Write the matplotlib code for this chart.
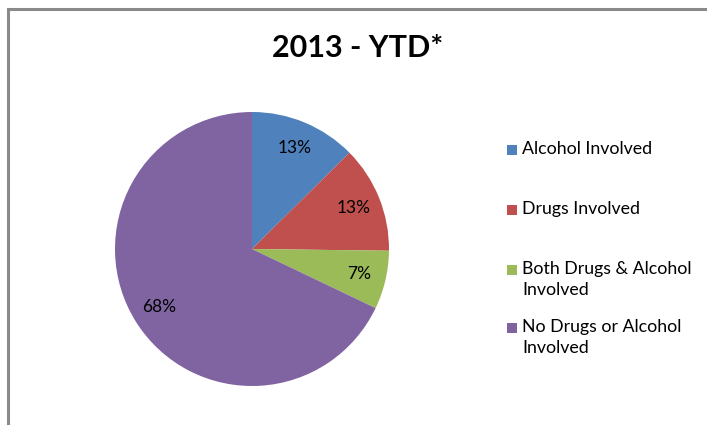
import matplotlib
matplotlib.use("Agg")
import matplotlib.pyplot as plt
from matplotlib.patches import Rectangle

categories = [
    "Alcohol Involved",
    "Drugs Involved",
    "Both Drugs & Alcohol\nInvolved",
    "No Drugs or Alcohol\nInvolved",
]
shares = [12.6, 12.6, 6.9, 67.9]
colors = ["#4F81BD", "#C0504D", "#9BBB59", "#8064A2"]
title = "2013 - YTD*"

W, H = 707, 425
plt.rcParams["font.family"] = ["Lato", "DejaVu Sans"]

fig = plt.figure(figsize=(W / 100, H / 100), dpi=100)

# chart frame, only left and top edges visible (cropped screenshot)
fig.add_artist(Rectangle((8 / W, -0.1), 1.2, 1 - 9 / H + 0.1,
                         transform=fig.transFigure, fill=False,
                         edgecolor="#8a8a8a", linewidth=2.2))

# pie: center (252, 249) px, radius 137 px
cx, cy, r = 252, 249, 137
ax = fig.add_axes([(cx - r) / W, (H - cy - r) / H, 2 * r / W, 2 * r / H])
ax.pie(shares, colors=colors, startangle=90, counterclock=False,
       autopct="%.0f%%", pctdistance=0.8, radius=1.0,
       textprops={"fontsize": 12.5, "color": "black"},
       wedgeprops={"linewidth": 0})
ax.set_xlim(-1, 1)
ax.set_ylim(-1, 1)
ax.set_aspect("equal")

fig.text(358 / W, 1 - 48 / H, title, ha="center", va="center",
         fontsize=22, fontweight="bold")

# legend
ys = [150, 210, 270, 328]
for lab, col, y in zip(categories, colors, ys):
    fig.add_artist(Rectangle((507 / W, 1 - (y + 5) / H), 10 / W, 10 / H,
                             transform=fig.transFigure, facecolor=col,
                             edgecolor="none"))
    fig.text(522 / W, 1 - (y - 9) / H, lab, ha="left", va="top",
             fontsize=12.8, linespacing=1.4)

fig.savefig("out.png", dpi=100)
